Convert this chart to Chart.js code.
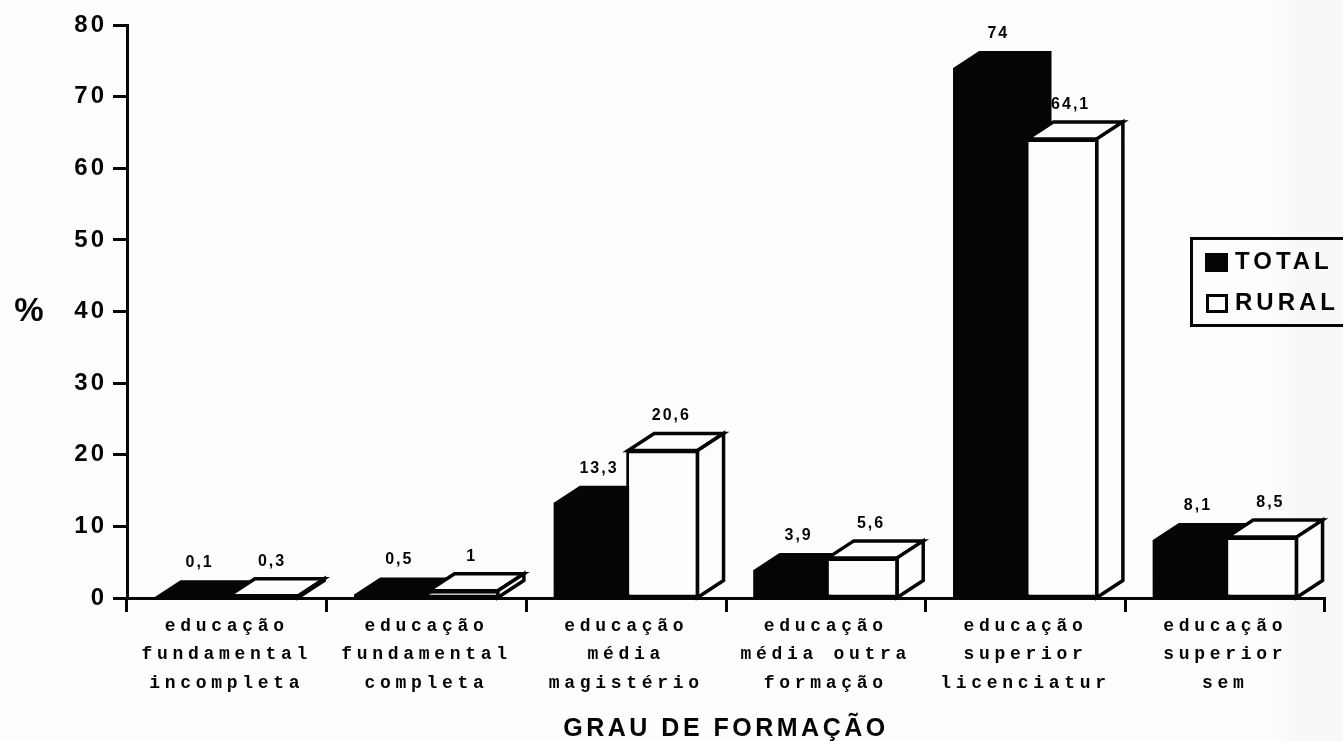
<!DOCTYPE html>
<html>
<head>
<meta charset="utf-8">
<style>
  html, body { margin: 0; padding: 0; background: #fdfdfd; }
  body { background: linear-gradient(to right, #fdfdfd 1275px, #f8f8f8 1295px); height: 741px; }
  canvas { display: block; }
</style>
<script src="https://cdn.jsdelivr.net/npm/chart.js@4/dist/chart.umd.min.js"></script>
</head>
<body>
<canvas id="grau_formacao" width="1343" height="741"></canvas>
<script>
// GRAU DE FORMACAO
var categories = [
    ["educação", "fundamental", "incompleta"],
    ["educação", "fundamental", "completa"],
    ["educação", "média", "magistério"],
    ["educação", "média outra", "formação"],
    ["educação", "superior", "licenciatur"],
    ["educação", "superior", "sem"]
];
var total = [0.1, 0.5, 13.3, 3.9, 74, 8.1];
var rural = [0.3, 1, 20.6, 5.6, 64.1, 8.5];

var INK = '#050505';
var DX = 26, DY = 17;

// chart.js has no setting for letter spacing, so wrap the scale draw calls
function spaced(scale, fn, spacing) {
    var flag = '_sp_' + fn;
    if (scale[flag]) return;
    scale[flag] = true;
    var orig = scale[fn];
    scale[fn] = function (a) {
        scale.ctx.letterSpacing = spacing;
        orig.call(scale, a);
        scale.ctx.letterSpacing = '0px';
    };
}

function poly(ctx, pts) {
    ctx.beginPath();
    ctx.moveTo(pts[0][0], pts[0][1]);
    for (var i = 1; i < pts.length; i++) ctx.lineTo(pts[i][0], pts[i][1]);
    ctx.closePath();
}

var bars3d = {
    id: 'bars3d',
    beforeDatasetsDraw: function (chart) {
        var ctx = chart.ctx;
        var m0 = chart.getDatasetMeta(0), m1 = chart.getDatasetMeta(1);

        // value labels go under the bars, the black bar cuts the 6 of 64,1
        ctx.save();
        ctx.fillStyle = INK;
        ctx.font = 'bold 16px "Liberation Sans"';
        ctx.letterSpacing = '2px';
        ctx.textAlign = 'center';
        ctx.textBaseline = 'middle';
        [m0, m1].forEach(function (m, s) {
            var vals = s === 0 ? total : rural;
            m.data.forEach(function (b, i) {
                ctx.fillText(String(vals[i]).replace('.', ','), b.x + 9, b.y - 34.5);
            });
        });
        ctx.restore();

        // black bars, top and side first
        ctx.save();
        ctx.fillStyle = INK;
        m0.data.forEach(function (b) {
            var l = b.x - b.width / 2, r = b.x + b.width / 2;
            poly(ctx, [[l, b.y], [l + DX, b.y - DY], [r + DX, b.y - DY], [r + DX, b.base - DY], [r, b.base], [l, b.base]]);
            ctx.fill();
        });
        ctx.restore();
        m0.controller.draw();

        // white bars
        m1.controller.draw();
        ctx.save();
        ctx.fillStyle = '#fdfdfd';
        ctx.strokeStyle = INK;
        ctx.lineWidth = 3.5;
        ctx.lineJoin = 'miter';
        m1.data.forEach(function (b) {
            var l = b.x - b.width / 2, r = b.x + b.width / 2 - 1;
            poly(ctx, [[l + 2, b.y], [l + 2 + DX, b.y - DY], [r + DX, b.y - DY], [r, b.y]]);
            ctx.fill();
            ctx.stroke();
            poly(ctx, [[r, b.y], [r + DX, b.y - DY], [r + DX, b.base - DY], [r, b.base]]);
            ctx.fill();
            ctx.stroke();
        });
        ctx.restore();
        return false;
    },
    afterDraw: function (chart) {
        var ctx = chart.ctx;
        ctx.save();
        ctx.fillStyle = INK;
        ctx.textBaseline = 'middle';

        // % on the y axis stands upright
        ctx.font = 'bold 33px "Liberation Sans"';
        ctx.textAlign = 'center';
        ctx.fillText('%', 29, 312);

        // legend box, runs off the right edge like the scan
        ctx.strokeStyle = INK;
        ctx.lineWidth = 3;
        ctx.beginPath();
        ctx.moveTo(1350, 238.5);
        ctx.lineTo(1191.5, 238.5);
        ctx.lineTo(1191.5, 325.5);
        ctx.lineTo(1350, 325.5);
        ctx.stroke();
        ctx.fillRect(1205, 253, 23, 19);
        ctx.strokeRect(1207.5, 295.5, 19, 16);
        ctx.font = 'bold 24px "Liberation Sans"';
        ctx.letterSpacing = '4px';
        ctx.textAlign = 'left';
        ctx.fillText(chart.data.datasets[0].label, 1235, 262);
        ctx.fillText(chart.data.datasets[1].label, 1235, 303);
        ctx.restore();
    }
};

var ctx = document.getElementById('grau_formacao').getContext('2d');
var chart = new Chart(ctx, {
    type: 'bar',
    data: {
        labels: categories,
        datasets: [{
            label: "TOTAL",
            backgroundColor: INK,
            borderWidth: 0,
            data: total
        }, {
            label: "RURAL",
            backgroundColor: '#fdfdfd',
            borderColor: INK,
            borderWidth: 3,
            borderSkipped: false,
            data: rural
        }]
    },
    plugins: [bars3d],
    options: {
        responsive: false,
        animation: false,
        events: [],
        categoryPercentage: 0.725,
        barPercentage: 1,
        layout: {
            autoPadding: false,
            padding: { top: 25, right: 18, left: 0, bottom: 0 }
        },
        plugins: {
            legend: { display: false },
            tooltip: { enabled: false }
        },
        scales: {
            x: {
                z: 1,
                afterFit: function (scale) {
                    scale.height = 143;
                    spaced(scale, 'drawLabels', '4.7px');
                    spaced(scale, 'drawTitle', '3.5px');
                },
                grid: {
                    drawOnChartArea: false,
                    color: INK,
                    tickLength: 14,
                    tickWidth: 3
                },
                border: { color: INK, width: 3 },
                ticks: {
                    color: INK,
                    maxRotation: 0,
                    autoSkip: false,
                    padding: 0,
                    font: { family: '"Liberation Mono"', size: 18, weight: 'bold', lineHeight: 1.58 }
                },
                title: {
                    display: true,
                    text: 'GRAU DE FORMAÇÃO',
                    color: INK,
                    padding: { top: 0, bottom: -3 },
                    font: { family: '"Liberation Sans"', size: 25, weight: 'bold' }
                }
            },
            y: {
                z: 1,
                min: 0,
                max: 80,
                afterFit: function (scale) {
                    scale.width = 127;
                    spaced(scale, 'drawLabels', '3px');
                },
                grid: {
                    drawOnChartArea: false,
                    color: INK,
                    tickLength: 14,
                    tickWidth: 3
                },
                border: { color: INK, width: 3 },
                ticks: {
                    color: INK,
                    stepSize: 10,
                    padding: 6,
                    font: { family: '"Liberation Sans"', size: 24, weight: 'bold' }
                }
            }
        }
    }
});
</script>
</body>
</html>
